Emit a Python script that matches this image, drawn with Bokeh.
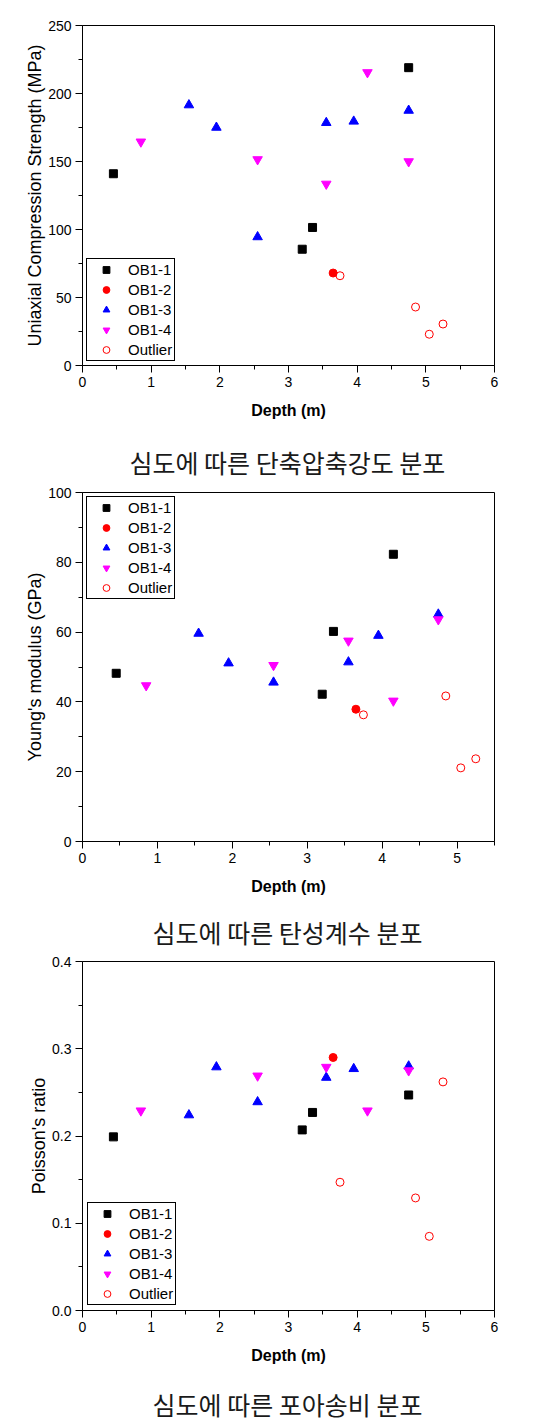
from bokeh.plotting import figure
from bokeh.layouts import column
from bokeh.models import Range1d, FixedTicker, Legend, LegendItem, PrintfTickFormatter
from bokeh.core.properties import value
from bokeh.embed import file_html
from bokeh.resources import INLINE

series_names = ["OB1-1", "OB1-2", "OB1-3", "OB1-4", "Outlier"]
x_ticks_6 = [0, 1, 2, 3, 4, 5, 6]
x_ticks_5 = [0, 1, 2, 3, 4, 5]

# Panel 1: Uniaxial compression strength (MPa)
ucs_ob11_x = [0.45, 3.2, 3.35, 4.75]
ucs_ob11_y = [141, 85.5, 101.5, 219]
ucs_ob12_x = [3.65]
ucs_ob12_y = [68]
ucs_ob13_x = [1.55, 1.95, 2.55, 3.55, 3.95, 4.75]
ucs_ob13_y = [191.5, 175, 94.5, 178.5, 179.5, 187.5]
ucs_ob14_x = [0.85, 2.55, 3.55, 4.15, 4.75]
ucs_ob14_y = [164.5, 151.5, 133.5, 215.5, 150]
ucs_out_x = [3.75, 4.85, 5.05, 5.25]
ucs_out_y = [66, 43, 23, 30.5]
ucs_ticks = [0, 50, 100, 150, 200, 250]

# Panel 2: Young's modulus (GPa)
ym_ob11_x = [0.45, 3.2, 3.35, 4.15]
ym_ob11_y = [48.2, 42.2, 60.2, 82.3]
ym_ob12_x = [3.65]
ym_ob12_y = [37.9]
ym_ob13_x = [1.55, 1.95, 2.55, 3.55, 3.95, 4.75]
ym_ob13_y = [59.6, 51.1, 45.6, 51.4, 59.0, 65.1]
ym_ob14_x = [0.85, 2.55, 3.55, 4.15, 4.75]
ym_ob14_y = [44.7, 50.5, 57.5, 40.3, 63.6]
ym_out_x = [3.75, 4.85, 5.05, 5.25]
ym_out_y = [36.3, 41.7, 21.1, 23.7]
ym_ticks = [0, 20, 40, 60, 80, 100]

# Panel 3: Poisson's ratio
pr_ob11_x = [0.45, 3.2, 3.35, 4.75]
pr_ob11_y = [0.199, 0.207, 0.227, 0.247]
pr_ob12_x = [3.65]
pr_ob12_y = [0.290]
pr_ob13_x = [1.55, 1.95, 2.55, 3.55, 3.95, 4.75]
pr_ob13_y = [0.224, 0.279, 0.239, 0.267, 0.277, 0.280]
pr_ob14_x = [0.85, 2.55, 3.55, 4.15, 4.75]
pr_ob14_y = [0.229, 0.269, 0.279, 0.229, 0.275]
pr_out_x = [3.75, 4.85, 5.05, 5.25]
pr_out_y = [0.147, 0.129, 0.085, 0.262]
pr_ticks = [0.0, 0.1, 0.2, 0.3, 0.4]

captions = ["심도에 따른 단축압축강도 분포", "심도에 따른 탄성계수 분포", "심도에 따른 포아송비 분포"]

FONT = "Liberation Sans"
W = 528


def minor_between(ticks, end):
    out = []
    for i in range(len(ticks) - 1):
        out.append((ticks[i] + ticks[i + 1]) / 2)
    step = ticks[1] - ticks[0]
    last = ticks[-1] + step / 2
    if last <= end + 1e-9:
        out.append(last)
    return out


def make_panel(h, bt, fh, bl, fw, x_end, x_ticks, y_end, y_ticks, ylabel, data,
               legend_loc, legend_margin, y_fmt=None):
    p = figure(width=W, height=h, output_backend="svg", toolbar_location=None,
               x_range=Range1d(0, x_end), y_range=Range1d(0, y_end),
               min_border_left=bl, min_border_top=bt,
               min_border_right=W - bl - fw, min_border_bottom=h - bt - fh)
    p.grid.visible = False
    p.outline_line_color = "black"
    p.outline_line_alpha = 1
    p.outline_line_width = 1
    p.background_fill_color = "white"
    p.border_fill_color = "white"

    for ax in (p.xaxis[0], p.yaxis[0]):
        ax.axis_line_color = "black"
        ax.major_tick_line_color = "black"
        ax.minor_tick_line_color = "black"
        ax.major_tick_out = 7
        ax.major_tick_in = 0
        ax.minor_tick_out = 4
        ax.minor_tick_in = 0
        ax.major_label_text_font = FONT
        ax.major_label_text_font_size = "14px"
        ax.major_label_text_color = "black"
        ax.axis_label_text_font = FONT
        ax.axis_label_text_color = "black"

    p.xaxis.ticker = FixedTicker(ticks=x_ticks, minor_ticks=minor_between(x_ticks, x_end))
    p.yaxis.ticker = FixedTicker(ticks=y_ticks, minor_ticks=minor_between(y_ticks, y_end))
    if y_fmt:
        p.yaxis.formatter = PrintfTickFormatter(format=y_fmt)
    p.xaxis.axis_label = "Depth (m)"
    p.xaxis.axis_label_text_font_size = "16px"
    p.xaxis.axis_label_text_font_style = "bold"
    p.xaxis.axis_label_standoff = 12
    p.xaxis.major_label_standoff = 4
    p.yaxis.axis_label = ylabel
    p.yaxis.axis_label_text_font_size = "18px"
    p.yaxis.axis_label_text_font_style = "normal"
    p.yaxis.axis_label_standoff = 0
    p.yaxis.major_label_standoff = 4

    (x1, y1), (x2, y2), (x3, y3), (x4, y4), (x5, y5) = data
    r1 = p.scatter(x1, y1, marker="square", size=8, fill_color="black", line_color="black")
    r2 = p.scatter(x2, y2, marker="circle", size=8, fill_color="red", line_color="red")
    r3 = p.scatter(x3, y3, marker="triangle", size=9.5, fill_color="blue", line_color="blue")
    r4 = p.scatter(x4, y4, marker="inverted_triangle", size=9.5, fill_color="magenta", line_color="magenta")
    r5 = p.scatter(x5, y5, marker="circle", size=8, fill_color=None, line_color="red", line_width=1)

    items = [LegendItem(label=n, renderers=[r]) for n, r in zip(series_names, [r1, r2, r3, r4, r5])]
    leg = Legend(items=items, location=legend_loc, margin=legend_margin,
                 padding=2, spacing=3, glyph_height=17, label_height=17, glyph_width=34,
                 label_standoff=5, label_text_font=FONT, label_text_font_size="15px",
                 label_text_color="black", border_line_color="black", border_line_width=1,
                 border_line_alpha=1, background_fill_color="white", background_fill_alpha=1)
    p.add_layout(leg)
    return p


def make_caption(h, text, cx, cy_from_bottom):
    c = figure(width=W, height=h, output_backend="svg", toolbar_location=None,
               x_range=Range1d(0, W), y_range=Range1d(0, h),
               min_border=0, min_border_left=0, min_border_right=0,
               min_border_top=0, min_border_bottom=0)
    c.axis.visible = False
    c.grid.visible = False
    c.outline_line_color = None
    c.text(x=[cx], y=[cy_from_bottom], text=[text], text_align="center",
           text_baseline="middle", text_font=value("Noto Sans CJK KR"),
           text_font_size="25px", text_color="#1a1a1a")
    return c


p1 = make_panel(425, 25, 340, 82, 412, 6, x_ticks_6, 250, ucs_ticks,
                "Uniaxial Compression Strength (MPa)",
                [(ucs_ob11_x, ucs_ob11_y), (ucs_ob12_x, ucs_ob12_y), (ucs_ob13_x, ucs_ob13_y),
                 (ucs_ob14_x, ucs_ob14_y), (ucs_out_x, ucs_out_y)],
                "bottom_left", 4)
c1 = make_caption(57, captions[0], 262.5, 20.3)
p2 = make_panel(418, 10, 349, 76, 423, 5.5, x_ticks_5, 100, ym_ticks,
                "Young's modulus (GPa)",
                [(ym_ob11_x, ym_ob11_y), (ym_ob12_x, ym_ob12_y), (ym_ob13_x, ym_ob13_y),
                 (ym_ob14_x, ym_ob14_y), (ym_out_x, ym_out_y)],
                "top_left", 4)
c2 = make_caption(52, captions[1], 262.7, 20.3)
p3 = make_panel(417, 9, 349, 77, 423, 6, x_ticks_6, 0.4, pr_ticks,
                "Poisson's ratio",
                [(pr_ob11_x, pr_ob11_y), (pr_ob12_x, pr_ob12_y), (pr_ob13_x, pr_ob13_y),
                 (pr_ob14_x, pr_ob14_y), (pr_out_x, pr_out_y)],
                "bottom_left", 5, y_fmt="%.1f")
c3 = make_caption(54, captions[2], 262.7, 20)

layout = column(p1, c1, p2, c2, p3, c3, spacing=0)
open("out.html", "w").write(file_html(layout, INLINE))
